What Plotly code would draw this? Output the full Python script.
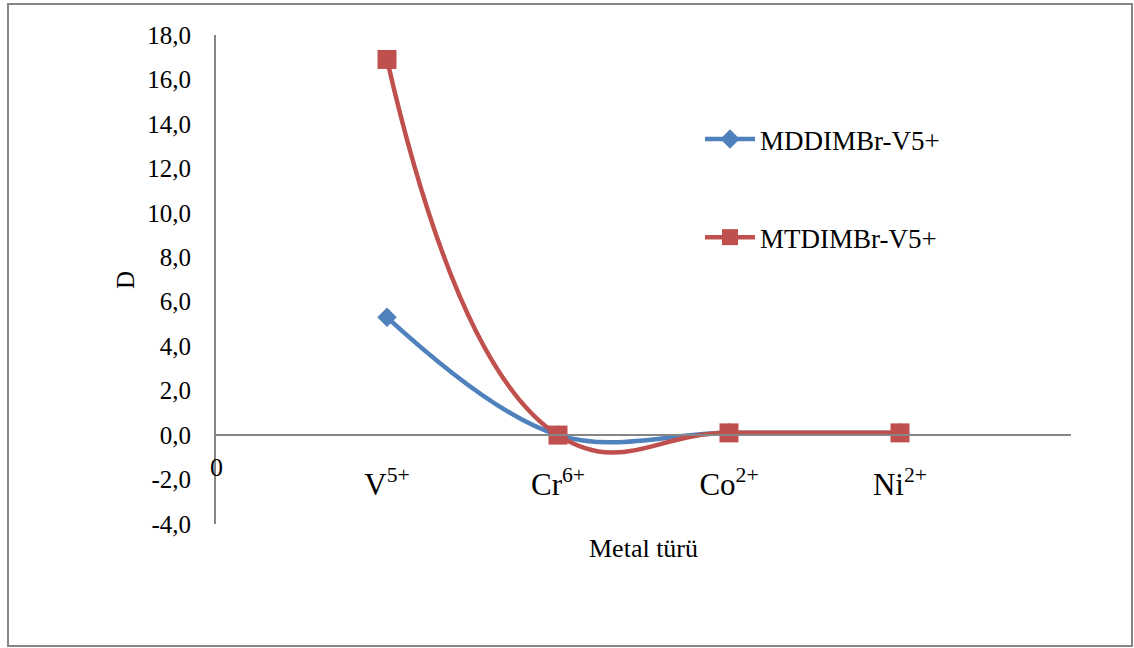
import plotly.graph_objects as go

# Metal ions on the category axis (drawn at positions 1..4)
metals = ["V<sup>5+</sup>", "Cr<sup>6+</sup>", "Co<sup>2+</sup>", "Ni<sup>2+</sup>"]
positions = [1, 2, 3, 4]

# Distribution ratio D for each extractant
mddimbr = [5.3, 0.0, 0.1, 0.1]
mtdimbr = [16.9, 0.0, 0.1, 0.1]

y_ticks = [-4, -2, 0, 2, 4, 6, 8, 10, 12, 14, 16, 18]
y_tick_labels = ["-4,0", "-2,0", "0,0", "2,0", "4,0", "6,0", "8,0",
                 "10,0", "12,0", "14,0", "16,0", "18,0"]

FONT = "Times New Roman, Liberation Serif, serif"
BLUE = "#4F81BD"
RED = "#C0504D"
AXIS = "#868686"

W, H = 1134, 648
L, R, T, B = 216, 63, 35, 124
pw, ph = W - L - R, H - T - B


def px_x(p):
    return (p - L) / pw


def px_y(p):
    return (H - B - p) / ph


fig = go.Figure()
fig.add_trace(go.Scatter(
    x=positions, y=mddimbr, name="MDDIMBr-V5+", mode="lines+markers",
    line=dict(color=BLUE, width=4.5, shape="spline", smoothing=1.05),
    marker=dict(symbol="diamond", size=15, color=BLUE),
    legendgroup="a",
))
fig.add_trace(go.Scatter(
    x=positions, y=mtdimbr, name="MTDIMBr-V5+", mode="lines+markers",
    line=dict(color=RED, width=4.5, shape="spline", smoothing=1.3),
    marker=dict(symbol="square", size=19, color=RED),
    legendgroup="b",
))

fig.update_layout(
    width=W, height=H,
    margin=dict(l=L, r=R, t=T, b=B),
    paper_bgcolor="white", plot_bgcolor="white",
    font=dict(family=FONT, color="black"),
    showlegend=True,
    legend=dict(
        x=px_x(700), y=px_y(115), xanchor="left", yanchor="top",
        font=dict(family=FONT, size=27, color="black"),
        tracegroupgap=60, traceorder="grouped",
        bgcolor="rgba(0,0,0,0)", itemwidth=50,
    ),
    xaxis=dict(
        range=[0, 5], tickvals=positions, ticktext=metals,
        showgrid=False, zeroline=False, showline=True,
        linecolor=AXIS, linewidth=2, ticks="",
        anchor="free", position=4 / 22,
        tickfont=dict(family=FONT, size=31, color="black"),
        ticklabelstandoff=22,
    ),
    yaxis=dict(
        range=[-4, 18], tickvals=y_ticks, ticktext=y_tick_labels,
        showgrid=False, zeroline=False, showline=True,
        linecolor=AXIS, linewidth=2, ticks="",
        tickfont=dict(family=FONT, size=25, color="black"),
        ticklabelstandoff=18,
    ),
)

# Outer chart border
fig.add_shape(
    type="rect", xref="paper", yref="paper",
    x0=px_x(8), x1=px_x(1132), y0=px_y(646), y1=px_y(4),
    line=dict(color=AXIS, width=2), fillcolor="rgba(0,0,0,0)", layer="below",
)

# Axis titles and origin label
fig.add_annotation(
    x=2.5, xref="x", y=px_y(548), yref="paper", text="Metal türü",
    showarrow=False, font=dict(family=FONT, size=26, color="black"),
    xanchor="center", yanchor="middle",
)
fig.add_annotation(
    x=px_x(125), xref="paper", y=px_y(280), yref="paper", text="D",
    showarrow=False, textangle=-90, font=dict(family=FONT, size=25, color="black"),
    xanchor="center", yanchor="middle",
)
fig.add_annotation(
    x=0, xref="x", y=px_y(467), yref="paper", text="0",
    showarrow=False, font=dict(family=FONT, size=26, color="black"),
    xanchor="center", yanchor="middle",
)

fig.write_html("out.html")
